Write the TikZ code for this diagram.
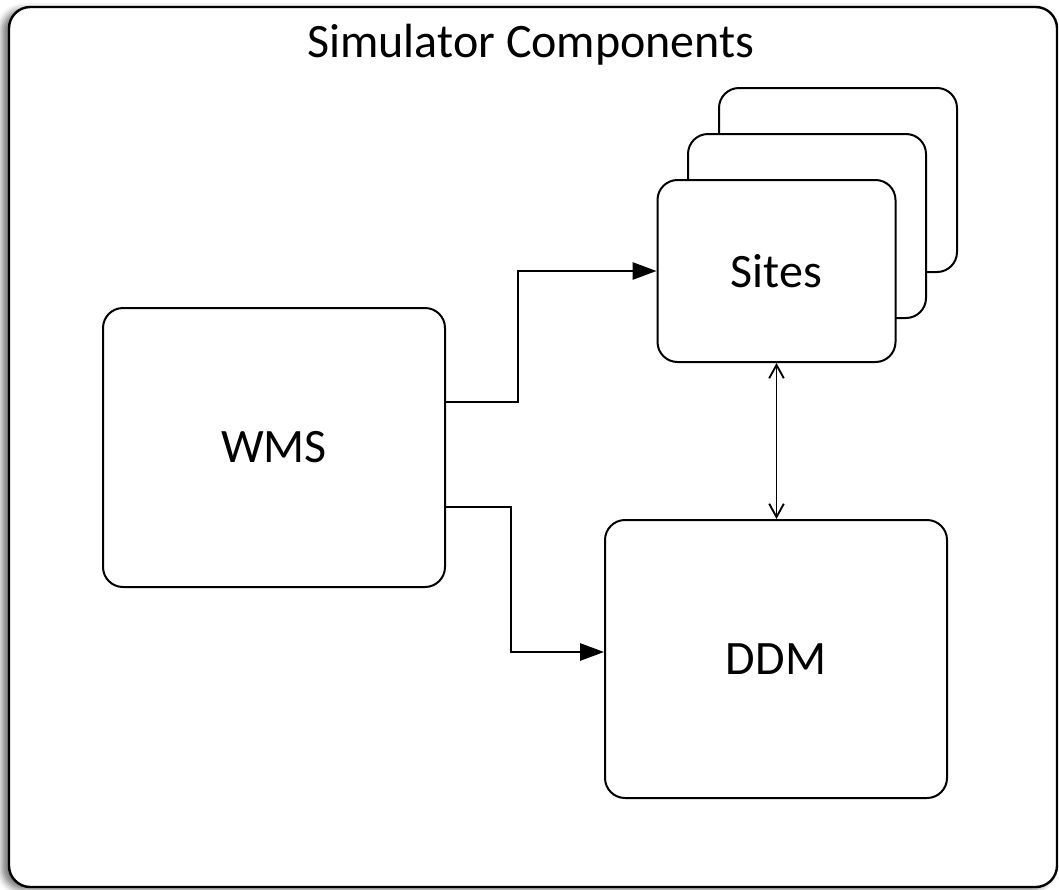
\documentclass[tikz,border=0pt]{standalone}
\usepackage{fontspec}
\setmainfont{Carlito}
\usetikzlibrary{arrows.meta,shadows.blur,calc}
\begin{document}
\begin{tikzpicture}[x=0.75pt,y=-0.75pt,
  box/.style={draw=black,line width=1.5pt,rounded corners=15pt,fill=white,inner sep=0pt,
    font=\fontsize{36}{43}\selectfont},
  outerbox/.style={draw=black,line width=1.8pt,rounded corners=16pt,fill=white,
    blur shadow={shadow xshift=-5pt,shadow yshift=-2pt,shadow blur radius=5pt,shadow opacity=55}},
  flow/.style={draw=black,line width=1.4pt,-{Triangle[length=18pt,width=13pt]}},
  link/.style={draw=black,line width=1.4pt,{Straight Barb[length=10pt,width=11pt,line width=1.4pt]}-{Straight Barb[length=10pt,width=11pt,line width=1.4pt]}},
  title/.style={font=\fontsize{36}{43}\selectfont,anchor=base,inner sep=0pt}]
\useasboundingbox (0,0) rectangle (1059,889);
\path[outerbox] (9,7) rectangle (1057,887);
\node[title] (ttl) at (531,57) {Simulator Components};
\node[box,minimum width=342*0.75pt,minimum height=279*0.75pt] (wms) at (274,447.5) {WMS};
\node[box,minimum width=238*0.75pt,minimum height=184*0.75pt] (site3) at (838,180) {};
\node[box,minimum width=238*0.75pt,minimum height=184*0.75pt] (site2) at (807,226) {};
\node[box,minimum width=238*0.75pt,minimum height=182*0.75pt] (sites) at (776.5,271) {Sites};
\node[box,minimum width=342*0.75pt,minimum height=278*0.75pt] (ddm) at (776,659) {DDM};
\draw[flow] ([yshift=34.1pt]wms.east) -- ++(72,0) |- (sites.west);
\draw[flow] ([yshift=-44.6pt]wms.east) -- ++(65,0) |- ([yshift=5.25pt]ddm.west);
\draw[link] (sites.south) -- (sites.south |- ddm.north);
\end{tikzpicture}
\end{document}
